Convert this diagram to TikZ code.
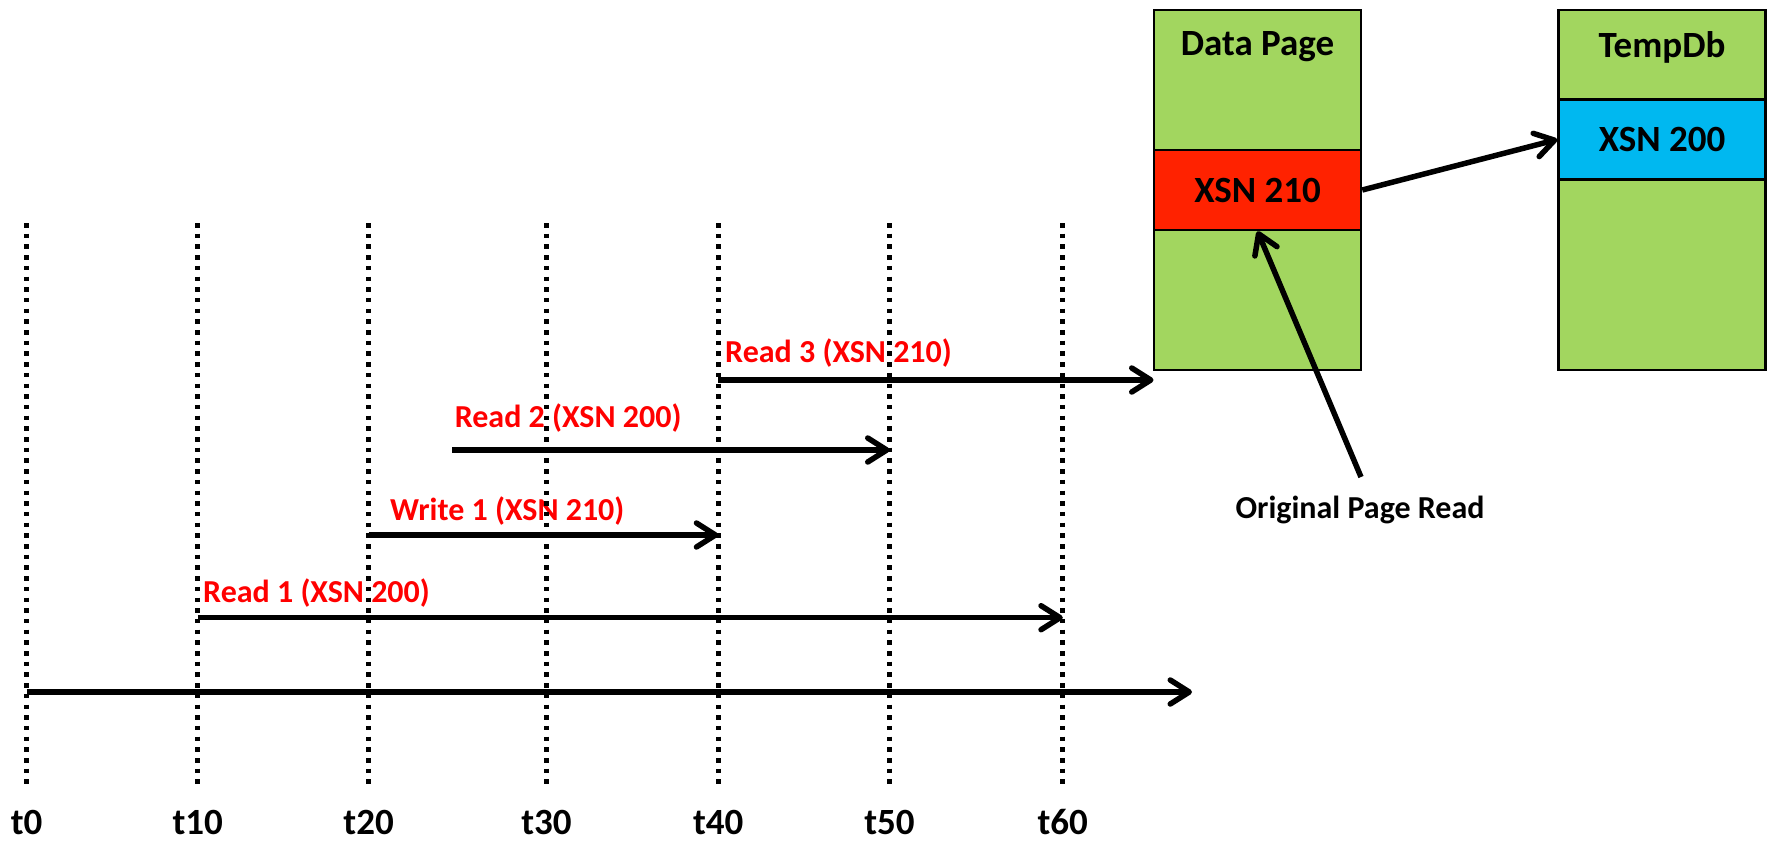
\documentclass[tikz,border=0pt]{standalone}
\usepackage{fontspec}
\setmainfont{Carlito}
\usetikzlibrary{arrows.meta}
\definecolor{pagegreen}{HTML}{A2D65F}
\definecolor{xsnred}{HTML}{FF2200}
\definecolor{xsnblue}{HTML}{00B8F0}
\begin{document}
\begin{tikzpicture}[x=1pt,y=-1pt,
  timeline/.style={line width=5pt, dash pattern=on 4.5pt off 6.2pt},
  flow/.style={line width=5.5pt, -{Straight Barb[length=19pt,width=24pt,line cap=round,line join=round]}},
  rlabel/.style={text=red, font=\bfseries\fontsize{32}{32}\selectfont, anchor=west, inner sep=0pt},
  tlabel/.style={font=\bfseries\fontsize{37}{37}\selectfont, inner sep=0pt},
  boxtext/.style={font=\bfseries\fontsize{37}{37}\selectfont, inner sep=0pt},
  pagebox/.style={draw=black, line width=2.5pt, fill=pagegreen, minimum width=207pt, minimum height=360pt, inner sep=0pt},
  band/.style={draw=black, line width=2.5pt, minimum width=207pt, minimum height=80pt, inner sep=0pt, font=\bfseries\fontsize{37}{37}\selectfont}
]
\useasboundingbox (0,0) rectangle (1767,841);

% pages
\node[pagebox] (dp) at (1257.5,190) {};
\node[band, fill=xsnred] (xr) at (1257.5,190) {XSN 210};
\node[boxtext] (dpt) at (1257.5,47) {Data Page};
\node[pagebox] (tb) at (1662,190) {};
\node[band, fill=xsnblue] (xb) at (1662,139.5) {XSN 200};
\node[boxtext] (tbt) at (1662,47) {TempDb};

\draw[flow] (xr.east) -- (xb.west);

\node[boxtext, font=\bfseries\fontsize{32}{32}\selectfont] (opr) at (1360,510) {Original Page Read};
\coordinate (oprtail) at (1361,477);
\draw[flow] (oprtail) -- (xr.south);

% time lines: coordinates and labels
\foreach \n/\x in {0/26.7,10/197.8,20/368.6,30/546.5,40/718.2,50/889.5,60/1062.8}{
  \coordinate (top\n) at (\x,223);
  \coordinate (bot\n) at (\x,790);
  \node[tlabel] (t\n) at (\x,822) {t\n};
}

% arrows
\coordinate (axs) at (26.7,692);
\coordinate (axe) at (1192,692);
\draw[flow] (axs) -- (axe);

\coordinate (r1s) at (197.8,617.7);
\coordinate (r1e) at (1062.8,617.7);
\draw[flow] (r1s) -- (r1e);
\node[rlabel] (r1l) at (203,593) {Read 1 (XSN 200)};

\coordinate (w1s) at (368.6,535);
\coordinate (w1e) at (718.2,535);
\draw[flow] (w1s) -- (w1e);
\node[rlabel] (w1l) at (390,511) {Write 1 (XSN 210)};

\coordinate (r2s) at (452,450);
\coordinate (r2e) at (889.5,450);
\draw[flow] (r2s) -- (r2e);
\node[rlabel] (r2l) at (454.6,418) {Read 2 (XSN 200)};

\coordinate (r3s) at (718.2,380);
\coordinate (r3e) at (1153.5,380);
\draw[flow] (r3s) -- (r3e);
\node[rlabel] (r3l) at (725,353) {Read 3 (XSN 210)};

% dotted time lines on top
\foreach \n in {0,10,20,30,40,50,60}{
  \draw[timeline] (top\n) -- (bot\n);
}
\end{tikzpicture}
\end{document}
